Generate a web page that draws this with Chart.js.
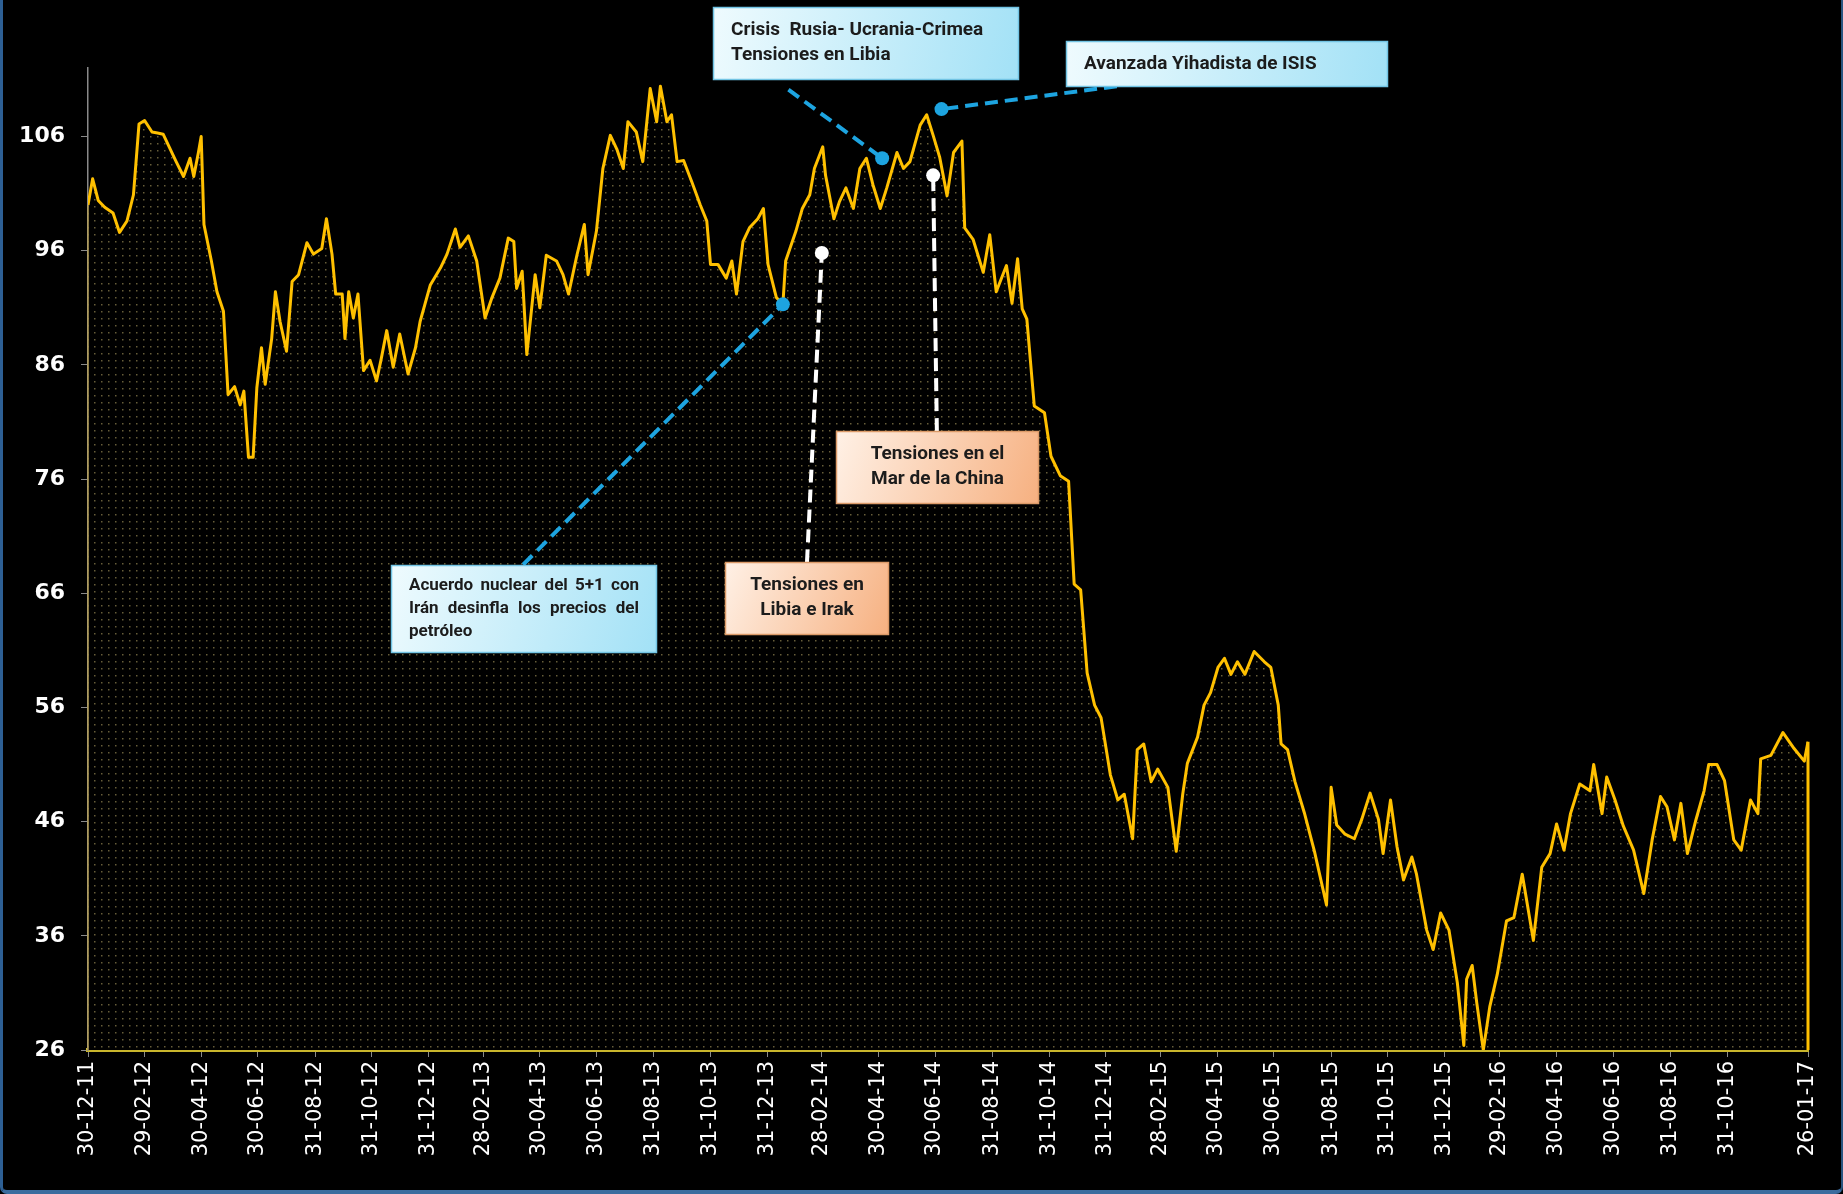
<!DOCTYPE html>
<html lang="es">
<head>
<meta charset="utf-8">
<title>WTI 2012-2017</title>
<script src="https://cdn.jsdelivr.net/npm/chart.js@4.4.1/dist/chart.umd.min.js"></script>
<style>
    html, body { margin: 0; padding: 0; background: #000; }
    #wrap { position: relative; width: 1843px; height: 1194px; overflow: hidden; }
    #marco {
        position: absolute; inset: 0; box-sizing: border-box; pointer-events: none;
        border-left: 3px solid #2d5f94; border-right: 2px solid #2a5580; border-bottom: 4px solid #3b6c9e;
        border-radius: 0 0 7px 7px;
    }
</style>
</head>
<body>
<div id="wrap">
    <canvas id="grafico" width="1843" height="1194"></canvas>
    <div id="marco"></div>
</div>
<script>
// dias desde el 30-12-2011 y precio de cierre (USD/barril)
const dias = [
    0, 5, 11, 18, 27, 34, 42, 49, 55, 61, 69, 75, 81, 88, 95, 103, 110, 114, 119, 122,
    125, 133, 139, 146, 151, 158, 164, 168, 173, 178, 182, 187, 191, 198, 202, 207, 214, 220, 227, 236,
    243, 252, 257, 263, 267, 274, 277, 281, 286, 291, 297, 304, 311, 316, 322, 329, 336, 345, 353, 358,
    369, 380, 387, 396, 401, 410, 419, 428, 435, 444, 453, 459, 462, 468, 473, 482, 487, 494, 505, 512,
    518, 527, 535, 539, 548, 555, 563, 570, 577, 582, 591, 598, 606, 613, 617, 624, 629, 635, 642, 651,
    660, 667, 671, 679, 688, 694, 699, 706, 713, 722, 728, 733, 742, 749, 752, 763, 770, 778, 783, 792,
    795, 804, 810, 817, 825, 832, 839, 846, 854, 861, 872, 879, 886, 897, 904, 911, 918, 926, 933, 942,
    945, 954, 965, 972, 979, 990, 996, 1002, 1007, 1012, 1020, 1031, 1038, 1048, 1057, 1063, 1070, 1077, 1085, 1092,
    1102, 1110, 1117, 1126, 1131, 1138, 1146, 1153, 1164, 1173, 1180, 1185, 1196, 1203, 1210, 1218, 1225, 1232, 1239, 1247,
    1257, 1268, 1275, 1283, 1286, 1293, 1301, 1311, 1322, 1335, 1340, 1346, 1355, 1365, 1373, 1382, 1391, 1396, 1404, 1411,
    1418, 1427, 1432, 1443, 1450, 1458, 1467, 1476, 1483, 1486, 1492, 1497, 1504, 1511, 1519, 1529, 1537, 1546, 1558, 1567,
    1576, 1583, 1591, 1598, 1608, 1619, 1623, 1632, 1637, 1646, 1655, 1666, 1677, 1686, 1695, 1702, 1710, 1717, 1724, 1733,
    1742, 1747, 1756, 1764, 1774, 1782, 1792, 1800, 1803, 1814, 1827, 1839, 1850, 1854
];

const precios = [
    100.0, 102.3, 100.4, 99.8, 99.3, 97.6, 98.6, 100.9, 107.1, 107.4, 106.4, 106.3, 106.2, 105.0, 103.8, 102.5, 104.1, 102.5, 104.6, 106.0,
    98.3, 95.1, 92.4, 90.7, 83.4, 84.1, 82.5, 83.7, 77.9, 77.9, 84.0, 87.5, 84.3, 88.3, 92.4, 89.8, 87.2, 93.3, 93.9, 96.7,
    95.7, 96.2, 98.8, 95.7, 92.2, 92.2, 88.3, 92.4, 90.1, 92.2, 85.5, 86.4, 84.6, 86.5, 89.0, 85.8, 88.7, 85.2, 87.5, 89.8,
    93.0, 94.5, 95.7, 97.9, 96.3, 97.3, 95.1, 90.1, 91.8, 93.6, 97.1, 96.8, 92.7, 94.2, 86.9, 93.9, 91.0, 95.6, 95.1, 93.9,
    92.2, 95.6, 98.3, 93.9, 97.7, 103.2, 106.1, 104.9, 103.2, 107.3, 106.4, 103.8, 110.2, 107.3, 110.4, 107.3, 107.9, 103.8, 103.9, 102.0,
    100.0, 98.6, 94.8, 94.8, 93.6, 95.1, 92.2, 96.8, 98.0, 98.8, 99.7, 94.8, 91.9, 91.3, 95.1, 97.7, 99.7, 100.9, 103.2, 105.1,
    102.6, 98.8, 100.3, 101.5, 99.7, 103.2, 104.1, 101.8, 99.7, 101.5, 104.6, 103.2, 103.8, 107.0, 107.9, 106.1, 104.2, 100.8, 104.6, 105.6,
    98.0, 97.0, 94.1, 97.4, 92.4, 94.7, 91.4, 95.3, 90.9, 90.0, 82.4, 81.8, 78.0, 76.3, 75.8, 66.8, 66.3, 59.0, 56.2, 55.1,
    50.1, 47.9, 48.4, 44.5, 52.3, 52.8, 49.5, 50.6, 49.0, 43.4, 48.4, 51.1, 53.4, 56.2, 57.3, 59.5, 60.3, 58.9, 60.0, 58.9,
    60.9, 60.0, 59.5, 56.2, 52.8, 52.3, 49.5, 46.8, 43.4, 38.7, 49.0, 45.7, 44.9, 44.5, 46.2, 48.5, 46.2, 43.2, 47.9, 43.8,
    40.9, 42.9, 41.4, 36.5, 34.8, 38.0, 36.5, 31.9, 26.4, 32.2, 33.4, 30.1, 26.0, 29.8, 32.6, 37.3, 37.6, 41.4, 35.6, 42.0,
    43.2, 45.8, 43.5, 46.7, 49.3, 48.7, 51.0, 46.7, 49.9, 47.9, 45.6, 43.5, 39.7, 44.4, 48.2, 47.3, 44.4, 47.6, 43.2, 46.1,
    48.7, 51.0, 51.0, 49.6, 44.4, 43.5, 47.9, 46.7, 51.5, 51.8, 53.8, 52.4, 51.3, 53.0
];

const etiquetasX = [
    '30-12-11', '29-02-12', '30-04-12', '30-06-12', '31-08-12', '31-10-12', '31-12-12', '28-02-13',
    '30-04-13', '30-06-13', '31-08-13', '31-10-13', '31-12-13', '28-02-14', '30-04-14', '30-06-14',
    '31-08-14', '31-10-14', '31-12-14', '28-02-15', '30-04-15', '30-06-15', '31-08-15', '31-10-15',
    '31-12-15', '29-02-16', '30-04-16', '30-06-16', '31-08-16', '31-10-16', '26-01-17'
];

const ticksY = [26, 36, 46, 56, 66, 76, 86, 96, 106];

// eventos: punto sobre la serie [dia, precio], esquina de la caja y origen de la guia
const notas = [
    { lineas: ['Crisis  Rusia- Ucrania-Crimea', 'Tensiones en Libia'], tipo: 'azul', alinear: 'left',
      punto: [856, 104.1], caja: [674, 117.3], ancho: 306, alto: 73, desde: [755, 110.1] },
    { lineas: ['Avanzada Yihadista de ISIS'], tipo: 'azul', alinear: 'left',
      punto: [920, 108.4], caja: [1054, 114.4], ancho: 322, alto: 46, desde: [1109, 110.4] },
    { lineas: ['Tensiones en', 'Libia e Irak'], tipo: 'naranja', alinear: 'center',
      punto: [791, 95.8], caja: [687, 68.7], ancho: 164, alto: 73, desde: [775, 68.7] },
    { lineas: ['Tensiones en el', 'Mar de la China'], tipo: 'naranja', alinear: 'center',
      punto: [911, 102.6], caja: [806, 80.2], ancho: 203, alto: 73, desde: [915, 80.2] },
    { lineas: ['Acuerdo nuclear del 5+1 con', 'Irán desinfla los precios del', 'petróleo'], tipo: 'azul', alinear: 'justify',
      punto: [749, 91.3], caja: [327, 68.5], ancho: 266, alto: 88, desde: [469, 68.5] }
];

const ESTILOS = {
    azul: { guia: '#1da4e0', punto: '#1da4e0', c1: '#effbfe', c2: '#a2e1f6', borde: '#72c4e4', font: 'bold 19px "Liberation Sans Narrow", "Roboto", sans-serif' },
    naranja: { guia: '#ffffff', punto: '#ffffff', c1: '#fff1e6', c2: '#f6b080', borde: '#dc9a68', font: 'bold 19px "Liberation Sans Narrow", "Roboto", sans-serif' }
};

function diaDe(etiqueta) {
    const [d, m, a] = etiqueta.split('-').map(Number);
    return Math.round((Date.UTC(2000 + a, m - 1, d) - Date.UTC(2011, 11, 30)) / 86400000);
}

function patronPuntos(ctx) {
    const tile = document.createElement('canvas');
    tile.width = 7;
    tile.height = 7;
    const t = tile.getContext('2d');
    t.fillStyle = '#000';
    t.fillRect(0, 0, 7, 7);
    t.fillStyle = 'rgba(170, 155, 95, 0.6)';
    t.fillRect(3, 3, 1.5, 1.5);
    return ctx.createPattern(tile, 'repeat');
}

function textoJustificado(ctx, linea, x, y, ancho) {
    const palabras = linea.split(' ');
    const total = palabras.reduce((s, p) => s + ctx.measureText(p).width, 0);
    const hueco = (ancho - total) / (palabras.length - 1);
    let cx = x;
    palabras.forEach(p => {
        ctx.fillText(p, cx, y);
        cx += ctx.measureText(p).width + hueco;
    });
}

const bordesArea = {
    id: 'bordesArea',
    afterDatasetsDraw(chart) {
        const pts = chart.getDatasetMeta(0).data;
        const base = chart.scales.y.getPixelForValue(26);
        const ctx = chart.ctx;
        ctx.save();
        ctx.strokeStyle = '#b9a25a';
        ctx.lineWidth = 1.5;
        ctx.beginPath();
        ctx.moveTo(pts[0].x, pts[0].y);
        ctx.lineTo(pts[0].x, base);
        ctx.stroke();
        const ult = pts[pts.length - 1];
        ctx.strokeStyle = '#ffc000';
        ctx.lineWidth = 3;
        ctx.beginPath();
        ctx.moveTo(ult.x, ult.y);
        ctx.lineTo(ult.x, base);
        ctx.stroke();
        ctx.restore();
    }
};

const anotaciones = {
    id: 'anotaciones',
    afterDraw(chart) {
        const { ctx, scales: { x, y } } = chart;
        ctx.save();

        notas.forEach(n => {
            const e = ESTILOS[n.tipo];
            ctx.setLineDash([13, 7]);
            ctx.lineWidth = 4;
            ctx.strokeStyle = e.guia;
            ctx.beginPath();
            ctx.moveTo(x.getPixelForValue(n.desde[0]), y.getPixelForValue(n.desde[1]));
            ctx.lineTo(x.getPixelForValue(n.punto[0]), y.getPixelForValue(n.punto[1]));
            ctx.stroke();
        });
        ctx.setLineDash([]);

        notas.forEach(n => {
            const e = ESTILOS[n.tipo];
            ctx.fillStyle = e.punto;
            ctx.beginPath();
            ctx.arc(x.getPixelForValue(n.punto[0]), y.getPixelForValue(n.punto[1]), 7, 0, Math.PI * 2);
            ctx.fill();

            const bx = Math.round(x.getPixelForValue(n.caja[0]));
            const by = Math.round(y.getPixelForValue(n.caja[1]));
            const grad = ctx.createLinearGradient(bx, by, bx + n.ancho, by + n.alto);
            grad.addColorStop(0, e.c1);
            grad.addColorStop(1, e.c2);
            ctx.fillStyle = grad;
            ctx.fillRect(bx, by, n.ancho, n.alto);
            ctx.strokeStyle = e.borde;
            ctx.lineWidth = 1.5;
            ctx.strokeRect(bx + 0.5, by + 0.5, n.ancho - 1, n.alto - 1);

            const chico = n.alinear === 'justify';
            ctx.font = chico ? 'bold 17px "Liberation Sans Narrow", "Roboto", sans-serif' : e.font;
            ctx.fillStyle = '#1c1c1c';
            ctx.textBaseline = 'middle';
            const alto = chico ? 23 : 25;
            const primero = chico ? 21 : 23;
            n.lineas.forEach((l, i) => {
                const ly = by + primero + i * alto;
                if (n.alinear === 'center') {
                    ctx.textAlign = 'center';
                    ctx.fillText(l, bx + n.ancho / 2, ly);
                } else if (n.alinear === 'justify' && i < n.lineas.length - 1) {
                    ctx.textAlign = 'left';
                    textoJustificado(ctx, l, bx + 18, ly, n.ancho - 36);
                } else {
                    ctx.textAlign = 'left';
                    ctx.fillText(l, bx + 18, ly);
                }
            });
        });
        ctx.restore();
    }
};

const ctx = document.getElementById('grafico').getContext('2d');

new Chart(ctx, {
    type: 'line',
    data: {
        datasets: [{
            data: dias.map((d, i) => ({ x: d, y: precios[i] })),
            borderColor: '#ffc000',
            borderWidth: 3,
            borderJoinStyle: 'round',
            backgroundColor: patronPuntos(ctx),
            fill: 'start',
            pointRadius: 0,
            tension: 0
        }]
    },
    options: {
        responsive: false,
        animation: false,
        layout: { padding: { top: 68, right: 35, left: 0, bottom: 0 } },
        plugins: {
            legend: { display: false },
            tooltip: { enabled: false }
        },
        scales: {
            x: {
                type: 'linear',
                min: 0,
                max: diaDe('26-01-17'),
                afterBuildTicks: (scale) => {
                    scale.ticks = etiquetasX.map(e => ({ value: diaDe(e) }));
                },
                afterFit: (scale) => { scale.height = 144; },
                ticks: {
                    autoSkip: false,
                    minRotation: 90,
                    maxRotation: 90,
                    padding: 4,
                    color: '#ffffff',
                    font: { family: 'DejaVu Sans', size: 21 },
                    callback: (v, i) => etiquetasX[i]
                },
                grid: { drawOnChartArea: false, drawTicks: true, tickLength: 7, color: '#8a8a8a' },
                border: { display: true, color: '#c9b52c', width: 4 }
            },
            y: {
                min: 26,
                max: 112,
                afterBuildTicks: (scale) => {
                    scale.ticks = ticksY.map(v => ({ value: v }));
                },
                afterFit: (scale) => { scale.width = 88; },
                ticks: {
                    padding: 16,
                    color: '#ffffff',
                    font: { family: 'DejaVu Sans', size: 22, weight: 'bold' }
                },
                grid: { drawOnChartArea: false, drawTicks: true, tickLength: 7, color: '#8a8a8a' },
                border: { display: true, color: '#8a8a8a', width: 1.5 }
            }
        }
    },
    plugins: [bordesArea, anotaciones]
});
</script>
</body>
</html>
